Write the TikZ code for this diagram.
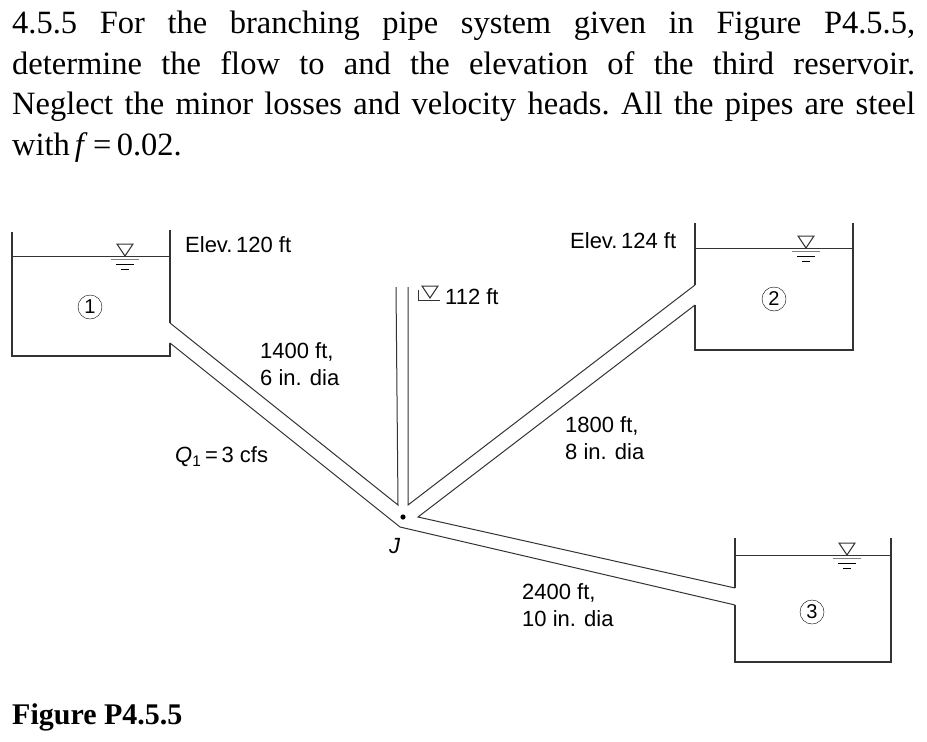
\documentclass[tikz,border=0pt]{standalone}
\usepackage{fontspec}
\setmainfont{Liberation Serif}
\newfontfamily\lbl{Liberation Sans}
\usetikzlibrary{positioning,calc}
\tikzset{
  wall/.style={line width=1.2pt,gray!40!black},
  pipe/.style={line width=1pt,gray!40!black},
  lab/.style={font=\lbl\fontsize{22}{27}\selectfont,anchor=west,inner sep=0pt},
  tag/.style={circle,draw,thin,minimum size=24pt,inner sep=0pt,font=\lbl\fontsize{20}{22}\selectfont}
}
\newcommand{\wsurf}[1]{%
  \draw[pipe] (#1) -- ++(-8,-12) -- ++(16,0) -- cycle;
  \draw[gray,thick] ($(#1)+(-14,3)$) -- ++(28,0);
  \draw[thin] ($(#1)+(-9,8)$) -- ++(18,0);
  \draw[thin] ($(#1)+(-4,13)$) -- ++(8,0);}
\begin{document}
\begin{tikzpicture}[x=1pt,y=-1pt]
\useasboundingbox (0,0) rectangle (927,742);
% problem statement
\node[anchor=north west,inner sep=0pt,text width=903pt,align=justify,
  font=\fontsize{32.5}{40.5}\selectfont] (prob) at (12,11)
  {\frenchspacing\spaceskip=0.15em plus 1em minus 0.05em\relax
   4.5.5 For the branching pipe system given in Figure P4.5.5,\linebreak
   determine the flow to and the elevation of the third reservoir.\linebreak
   Neglect the minor losses and velocity heads. All the pipes are steel\linebreak
   with \textit{f}\,=\,0.02.};
% reservoir 1
\draw[wall] (12,232) -- (12,356) -- (170,356) -- (170,343);
\draw[wall] (170,323) -- (170,230);
\draw[pipe] (12,256) -- (170,256);
\wsurf{125,256}
\node[tag] (r1) at (90,307) {1};
% reservoir 2
\draw[wall] (695,223) -- (695,285);
\draw[wall] (695,305) -- (695,350) -- (853,350) -- (853,223);
\draw[pipe] (695,248) -- (853,248);
\wsurf{806,248}
\node[tag] (r2) at (774,299) {2};
% reservoir 3
\draw[wall] (735,538) -- (735,588);
\draw[wall] (735,605) -- (735,662) -- (891,662) -- (891,538);
\draw[pipe] (735,555) -- (891,555);
\wsurf{847,555}
\node[tag] (r3) at (812,612) {3};
% junction and pipes
\coordinate (Ja) at (398,505);
\coordinate (Jb) at (408,505);
\coordinate (Jc) at (418,517);
\coordinate (Jd) at (400,527);
\fill (403,517) circle (2.6pt);
\draw[pipe] (170,323) -- (Ja) -- (396,287);
\draw[pipe] (170,343) -- (Jd) -- (735,605);
\draw[pipe] (408,287) -- (Jb) -- (695,285);
\draw[pipe] (695,305) -- (Jc) -- (735,588);
% piezometer level
\draw[pipe] (418,290) -- (418,300) -- (440,300);
\draw[pipe] (422,286) -- (438,286) -- (430,298) -- cycle;
% labels
\node[lab] (el1) at (185,245) {Elev.\,120 ft};
\node[lab] (el2) at (570,241) {Elev.\,124 ft};
\node[lab] (hp) at (445,297) {112 ft};
\node[lab,align=left] (p1) at (260,364) {1400 ft,\\6 in. dia};
\node[lab] (q1) at (175,457) {\textit{Q}\textsubscript{1}\,=\,3 cfs};
\node[lab,align=left] (p2) at (565,438) {1800 ft,\\8 in. dia};
\node[lab,align=left] (p3) at (522,605) {2400 ft,\\10 in. dia};
\node[lab] (jl) at (389,546) {\textit{J}};
\node[anchor=west,inner sep=0pt,font=\bfseries\fontsize{30}{34}\selectfont] (fig) at (12,717) {Figure P4.5.5};
\end{tikzpicture}
\end{document}
